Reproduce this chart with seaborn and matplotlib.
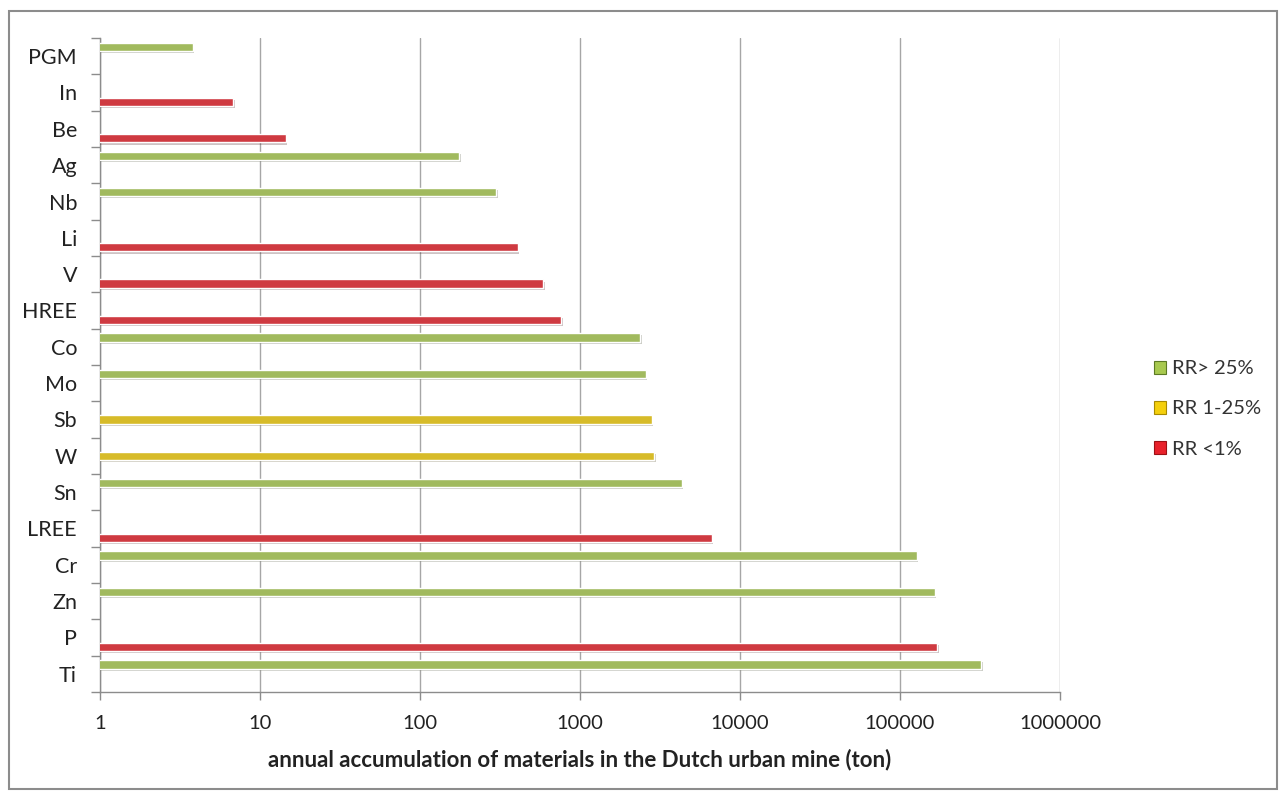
import matplotlib
matplotlib.use("Agg")
import matplotlib.pyplot as plt
from matplotlib.patches import Patch, Rectangle
from matplotlib.ticker import FixedLocator, FuncFormatter
import matplotlib.patheffects as pe
import seaborn as sns
import pandas as pd
import numpy as np

materials = ["PGM", "In", "Be", "Ag", "Nb", "Li", "V", "HREE", "Co", "Mo",
             "Sb", "W", "Sn", "LREE", "Cr", "Zn", "P", "Ti"]
values = [3.8, 6.8, 14.5, 176, 299, 408, 590, 760, 2370, 2570,
          2800, 2900, 4320, 6650, 127000, 165000, 170000, 321000]
groups = ["RR> 25%", "RR <1%", "RR <1%", "RR> 25%", "RR> 25%", "RR <1%", "RR <1%",
          "RR <1%", "RR> 25%", "RR> 25%", "RR 1-25%", "RR 1-25%", "RR> 25%",
          "RR <1%", "RR> 25%", "RR> 25%", "RR <1%", "RR> 25%"]
hue_levels = ["RR> 25%", "RR 1-25%", "RR <1%"]
x_ticks = [1, 10, 100, 1000, 10000, 100000, 1000000]

fill_colors = {"RR> 25%": "#a8c94f", "RR 1-25%": "#f4cf0c", "RR <1%": "#e8212b"}
edge_colors = {"RR> 25%": "#5c7a24", "RR 1-25%": "#a88a00", "RR <1%": "#9c1015"}

df = pd.DataFrame({"material": materials, "value": values, "group": groups})

sns.set_theme(style="white")
plt.rcParams["font.family"] = ["Lato", "DejaVu Sans"]

fig = plt.figure(figsize=(12.84, 7.95), dpi=100)
ax = fig.add_axes([100 / 1284, 103 / 795, 960 / 1284, 654 / 795])

sns.barplot(data=df, y="material", x="value", hue="group", hue_order=hue_levels,
            order=materials, orient="h", palette=fill_colors, dodge=True,
            width=0.78, gap=0.12, errorbar=None, legend=False, ax=ax, zorder=3)

for patch in ax.patches:
    hexc = matplotlib.colors.to_hex(patch.get_facecolor())
    for k, v in fill_colors.items():
        if hexc.lower() == v.lower():
            patch.set_edgecolor(edge_colors[k])
    patch.set_linewidth(1.0)
    patch.set_path_effects([pe.SimplePatchShadow(offset=(1.2, -1.5), alpha=0.25),
                            pe.Normal()])

ax.set_xscale("log")
ax.set_xlim(1, 1000000)
ax.set_ylim(len(materials) - 0.5, -0.5)

ax.xaxis.set_major_locator(FixedLocator(x_ticks))
ax.xaxis.set_minor_locator(FixedLocator([]))
ax.xaxis.set_major_formatter(FuncFormatter(lambda v, p: f"{int(round(v))}"))
ax.grid(axis="x", which="major", color="#a6a6a6", linewidth=1.0, zorder=0)
ax.grid(axis="y", visible=False)

ax.yaxis.set_minor_locator(FixedLocator(np.arange(-0.5, len(materials), 1.0)))
ax.tick_params(axis="y", which="major", length=0, pad=16.5, labelsize=15.5, labelcolor="#222222")
ax.tick_params(axis="y", which="minor", length=6.5, width=1, color="#8c8c8c", left=True)
ax.tick_params(axis="x", which="major", length=5.5, width=1, color="#8c8c8c",
               bottom=True, pad=11, labelsize=14.5, labelcolor="#222222")

for side in ["top", "right"]:
    ax.spines[side].set_visible(False)
for side in ["left", "bottom"]:
    ax.spines[side].set_visible(True)
    ax.spines[side].set_color("#8c8c8c")
    ax.spines[side].set_linewidth(1.0)

ax.set_ylabel("")
ax.set_xlabel("annual accumulation of materials in the Dutch urban mine (ton)",
              fontsize=16, fontweight="bold", color="#222222", labelpad=12)

handles = [Patch(facecolor=fill_colors[h], edgecolor=edge_colors[h], linewidth=0.8)
           for h in hue_levels]
fig.legend(handles, hue_levels, loc="center left", bbox_to_anchor=(1136 / 1284, 1 - 409 / 795),
           frameon=False, fontsize=14.5, handlelength=0.6, handleheight=0.6,
           handletextpad=0.3, labelspacing=1.15, labelcolor="#333333")

fig.patches.append(Rectangle((9 / 1284, 1 - 789 / 795), 1268 / 1284, 778 / 795,
                             transform=fig.transFigure, fill=False,
                             edgecolor="#8c8c8c", linewidth=1.5))

fig.savefig("out.png", dpi=100, facecolor="white")
